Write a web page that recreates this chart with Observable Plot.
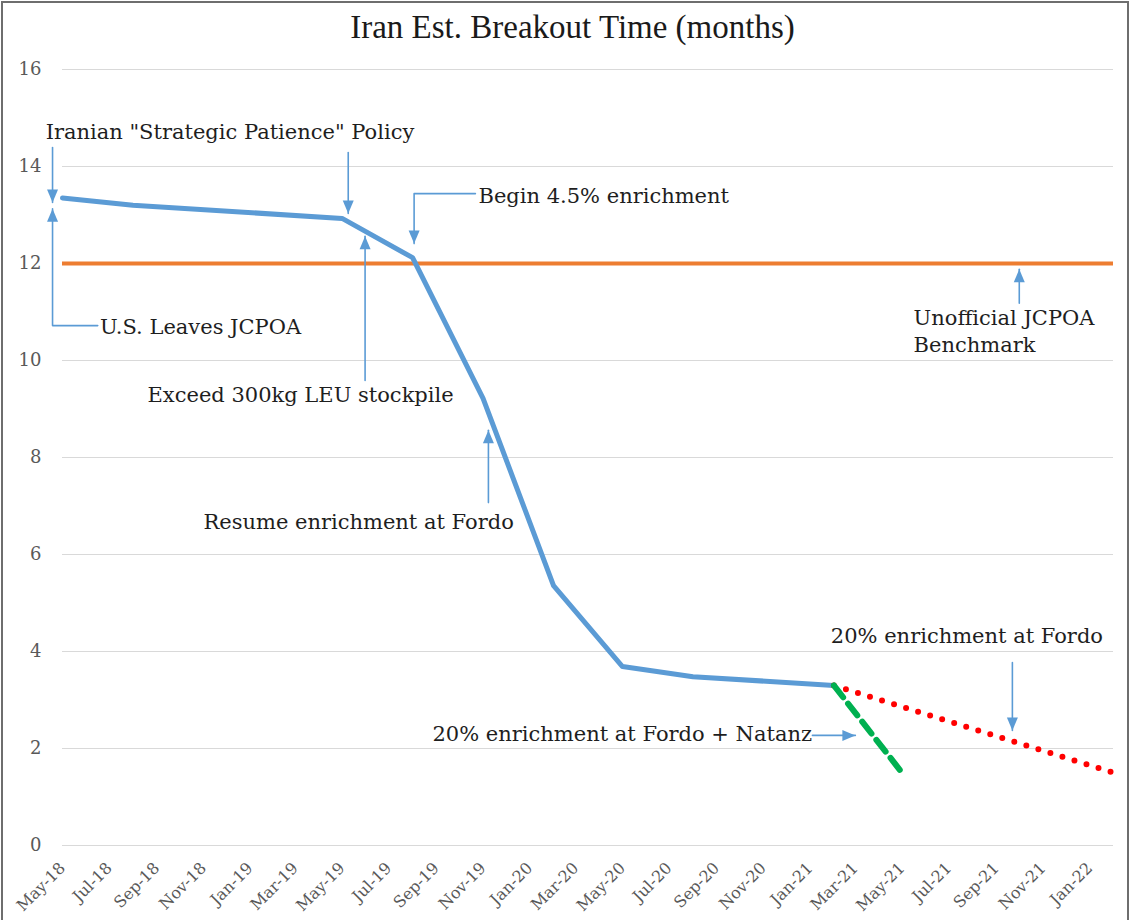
<!DOCTYPE html>
<html><head><meta charset="utf-8">
<script src="https://cdn.jsdelivr.net/npm/d3@7"></script>
<script src="https://cdn.jsdelivr.net/npm/@observablehq/plot@0.6"></script>
<style>
body{margin:0;background:#fff;}
#wrap{position:relative;width:1131px;height:920px;overflow:hidden;background:#fff;}
#frame{position:absolute;left:1px;top:1px;width:1128px;height:1000px;border:2px solid #6e6e6e;box-sizing:border-box;pointer-events:none;}
#title{height:50px;line-height:54px;text-align:center;padding-left:14px;box-sizing:border-box;font-family:"Liberation Serif",serif;font-size:33px;color:#1a1a1a;}
#chart svg{display:block;}
</style></head><body>
<div id="wrap"><div id="title">Iran Est. Breakout Time (months)</div><div id="chart"></div><div id="frame"></div></div>
<script>
// ---- data ----
const breakoutDates = ["2018-05-01","2018-08-01","2019-05-01","2019-08-01","2019-11-01","2020-02-01","2020-05-01","2020-08-01","2021-02-01"];
const breakoutMonths = [13.35, 13.2, 12.93, 12.12, 9.22, 5.36, 3.69, 3.48, 3.30];
const natanzDates = ["2021-02-01","2021-05-01"];
const natanzMonths = [3.30, 1.5];
const fordoDates = ["2021-02-01","2022-02-01"];
const fordoMonths = [3.30, 1.5];
const benchmarkMonths = [12];
const yTicks = [0, 2, 4, 6, 8, 10, 12, 14, 16];
const xDomain = ["2018-05-01", "2022-02-01"];
const xTickFirst = "2018-05-01", xTickLast = "2022-01-01";

// annotations (data coordinates)
const noteTexts = ["Iranian \"Strategic Patience\" Policy", "U.S. Leaves JCPOA", "Begin 4.5% enrichment", "Exceed 300kg LEU stockpile", "Resume enrichment at Fordo", "Unofficial JCPOA\nBenchmark", "20% enrichment at Fordo", "20% enrichment at Fordo + Natanz"];
const noteDates = ["2018-04-09", "2018-06-19", "2019-10-26", "2018-08-20", "2018-11-01", "2021-05-16", "2021-01-28", "2019-08-27"];
const noteValues = [14.74, 10.72, 13.42, 9.32, 6.70, 10.63, 4.35, 2.33];

const arrowIds = ["a","a","b","b","c","c","c","d","d","d","e","e","f","f","g","g","h","h","i","i"];
const arrowDates = ["2018-04-18","2018-04-18","2019-05-09","2019-05-09","2018-06-16","2018-04-18","2018-04-18","2019-10-22","2019-08-03","2019-08-03","2019-05-31","2019-05-31","2019-11-08","2019-11-08","2021-10-01","2021-10-01","2021-09-22","2021-09-22","2021-01-04","2021-03-01"];
const arrowValues = [14.39,13.26,14.29,13.03,10.72,10.72,13.13,13.44,13.44,12.41,9.59,12.56,7.07,8.56,11.18,11.88,3.77,2.37,2.27,2.27];

const tipDates = ["2018-04-18","2019-05-09","2018-04-18","2019-08-03","2019-05-31","2019-11-08","2021-10-01","2021-09-22","2021-03-01"];
const tipValues = [13.26, 13.03, 13.13, 12.41, 12.56, 8.56, 11.88, 2.37, 2.27];
const tipAngles = [180, 180, 0, 180, 0, 0, 0, 180, 90];

// ---- build tables ----
const P = d3.utcParse("%Y-%m-%d");
const mainData = breakoutDates.map((d, i) => ({date: P(d), value: breakoutMonths[i]}));
const natanzData = natanzDates.map((d, i) => ({date: P(d), value: natanzMonths[i]}));
const fordoData = fordoDates.map((d, i) => ({date: P(d), value: fordoMonths[i]}));
const notes = noteTexts.map((t, i) => ({text: t, date: P(noteDates[i]), value: noteValues[i]}));
const arrows = arrowIds.map((id, i) => ({id, date: P(arrowDates[i]), value: arrowValues[i]}));
const tips = tipDates.map((d, i) => ({date: P(d), value: tipValues[i], angle: tipAngles[i]}));
const xTicks = d3.utcMonth.every(2).range(P(xTickFirst), d3.utcDay.offset(P(xTickLast), 1));

const head = {draw(ctx) { ctx.moveTo(0, 0); ctx.lineTo(-5.5, 13); ctx.lineTo(5.5, 13); ctx.closePath(); }};
const arrowColor = "#5b9bd5";

const chart = Plot.plot({
  width: 1131,
  height: 870,
  marginLeft: 62,
  marginRight: 18,
  marginTop: 19,
  marginBottom: 75,
  style: {fontFamily: "'DejaVu Serif', serif", fontSize: "17px", color: "#595959", background: "transparent"},
  x: {type: "utc", domain: xDomain.map(P)},
  y: {domain: [0, 16]},
  marks: [
    Plot.gridY(yTicks, {stroke: "#d9d9d9", strokeOpacity: 1, strokeWidth: 1.2}),
    Plot.axisY(yTicks, {tickSize: 0, tickPadding: 21, fill: "#595959", fontSize: 18, label: null}),
    Plot.axisX(xTicks, {tickFormat: d3.utcFormat("%b-%y"), tickRotate: -45, tickSize: 0, tickPadding: 18, dy: 2, fill: "#595959", fontSize: 16, label: null}),
    Plot.ruleY(benchmarkMonths, {stroke: "#ed7d31", strokeWidth: 4}),
    Plot.line(mainData, {x: "date", y: "value", stroke: "#5b9bd5", strokeWidth: 5, strokeLinejoin: "round"}),
    Plot.line(fordoData, {x: "date", y: "value", stroke: "#ff0000", strokeWidth: 6, strokeDasharray: "0,12.6", strokeLinecap: "round"}),
    Plot.line(natanzData, {x: "date", y: "value", stroke: "#00b050", strokeWidth: 6, strokeDasharray: "15,8"}),
    Plot.line(arrows, {x: "date", y: "value", z: "id", stroke: arrowColor, strokeWidth: 1.6}),
    Plot.dot(tips, {x: "date", y: "value", symbol: head, rotate: "angle", fill: arrowColor, stroke: "none", r: 6}),
    Plot.text(notes, {x: "date", y: "value", text: "text", textAnchor: "start", fill: "#1e1e1e", fontSize: 21, lineHeight: 1.3})
  ]
});
document.getElementById("chart").appendChild(chart);
</script>
</body></html>
